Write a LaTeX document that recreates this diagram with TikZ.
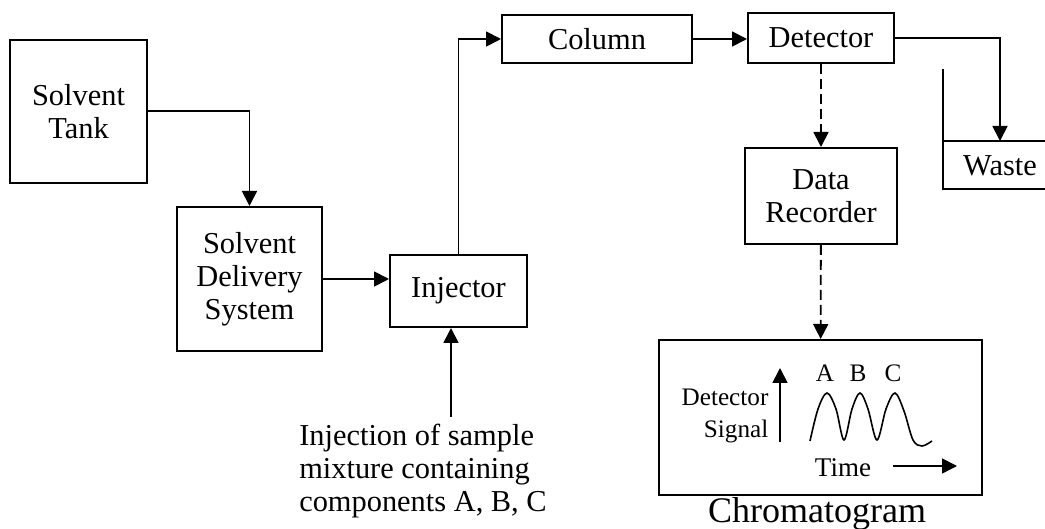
\documentclass[tikz,border=0pt]{standalone}
\usepackage{fontspec}
\setmainfont{Liberation Serif}
\usetikzlibrary{arrows.meta,positioning,calc}

\begin{document}
\begin{tikzpicture}[
  x=0.5pt, y=-0.5pt,
  font=\fontsize{15.2}{16.5}\selectfont,
  >={Triangle[length=7.5pt,width=7.5pt]},
  block/.style={draw, line width=1pt, align=center, inner sep=2pt},
  flow/.style={->, line width=0.9pt},
  signal/.style={->, line width=0.9pt, dash pattern=on 5pt off 2.5pt},
  small/.style={font=\fontsize{12.6}{16}\selectfont}
]
  \useasboundingbox (0,0) rectangle (1045,529);

  % main flow path
  \node[block, minimum width=68.5pt, minimum height=71.5pt] (tank) at (78.5,111.5) {Solvent\\Tank};
  \node[block, minimum width=72.5pt, minimum height=72pt] (sds) at (249.5,279) {Solvent\\Delivery\\System};
  \node[block, minimum width=68.5pt, minimum height=36pt] (inj) at (458.5,291) {Injector};
  \node[block, minimum width=95pt, minimum height=24pt] (col) at (597,39) {Column};
  \node[block, minimum width=73pt, minimum height=25pt] (det) at (821,38) {Detector};
  \node[block, minimum width=76pt, minimum height=48pt] (rec) at (821,196) {Data\\Recorder};
  \node[align=left, inner sep=0pt] (sample) at (423,471)
    {Injection of sample\\mixture containing\\components A, B, C};
  \coordinate (injsrc) at (451,417);

  % waste container, open on the right
  \node[inner sep=0pt] (waste) at (1000,166) {Waste};
  \coordinate (wtop) at (1000,141);
  \draw[line width=1pt] (943,69) -- (943,189) -- (1045,189);
  \draw[line width=1pt] (943,141) -- (1045,141);

  % chromatogram
  \node[block, minimum width=161.5pt, minimum height=77.5pt] (chrom) at (820.5,417.5) {};
  \node[font=\fontsize{18}{20}\selectfont, inner sep=0pt] (chromlbl) at (817,514) {Chromatogram};
  \node[small, align=right, inner sep=0pt] (sig) at (725,416) {Detector\\Signal};
  \coordinate (yax0) at (780,442);
  \coordinate (yax1) at (780,368);
  \node[small, font=\fontsize{13.5}{16}\selectfont, inner sep=0pt] (time) at (843,468) {Time};
  \coordinate (tax0) at (893,466);
  \coordinate (tax1) at (957,466);
  \node[small, inner sep=0pt] (pA) at (825,373) {A};
  \node[small, inner sep=0pt] (pB) at (858,373) {B};
  \node[small, inner sep=0pt] (pC) at (893,373) {C};
  \draw[line width=0.8pt] plot[smooth, tension=0.55] coordinates {
    (810,441) (818,409) (827,393) (836,409) (844,440) (852,409) (860,393)
    (868,409) (877,440) (886,409) (895,393) (904,411) (913,440) (922,446) (932,441)};

  \draw[flow] (tank.east |- 0,111) -| (sds.north);
  \draw[flow] (sds.east) -- (sds.east -| inj.west);
  \draw[flow] (inj.north) |- (col.west);
  \draw[flow] (col.east) -- (col.east -| det.west);
  \draw[flow] (det.east) -| (wtop);
  \draw[flow] (injsrc) -- (injsrc |- inj.south);
  \draw[signal] (det) -- (rec);
  \draw[signal] (rec) -- (chrom);
  \draw[flow] (yax0) -- (yax1);
  \draw[flow] (tax0) -- (tax1);
\end{tikzpicture}
\end{document}
